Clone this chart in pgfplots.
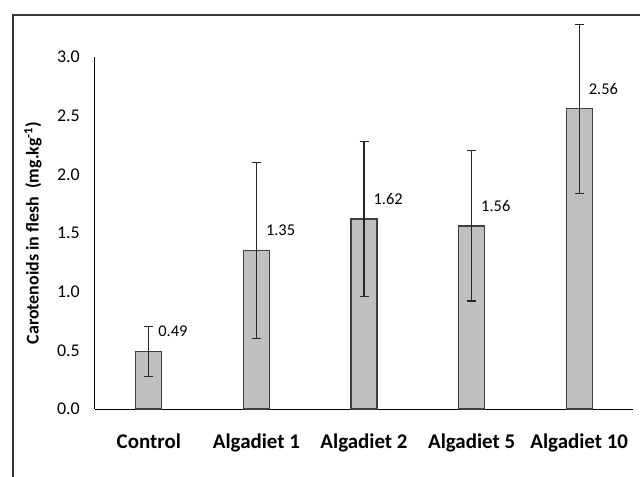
\documentclass[border=0pt]{standalone}
\usepackage{pgfplots}
\pgfplotsset{compat=1.18}
\usepackage{fontspec}
\setmainfont{Carlito}
\begin{document}
\begin{tikzpicture}
\useasboundingbox (-95bp,-68bp) rectangle (545bp,409bp);
\draw[line width=2.2bp, black!78] (-82bp,-120bp) -- (-82bp,394bp) -- (620bp,394bp);
\begin{axis}[
  at={(0,0)}, anchor=south west,
  scale only axis, width=538bp, height=352bp,
  xmin=-0.5, xmax=4.5, ymin=0, ymax=3,
  clip=false,
  axis x line*=bottom, axis y line*=left,
  axis line style={-, black, line width=1bp},
  xtick={0,1,2,3,4},
  xticklabels={Control, Algadiet 1, Algadiet 2, Algadiet 5, Algadiet 10},
  ytick={0,0.5,1,1.5,2,2.5,3},
  major tick length=0pt,
  y tick label style={/pgf/number format/fixed, /pgf/number format/fixed zerofill, /pgf/number format/precision=1, /pgf/number format/assume math mode=true, font=\fontsize{18}{20}\selectfont, anchor=east, inner sep=0pt, xshift=-15bp},
  x tick label style={font=\fontsize{21}{24}\selectfont\bfseries, anchor=base, inner sep=0pt, yshift=-39bp},
  ylabel={Carotenoids in flesh~ (mg.kg\textsuperscript{-1})},
  ylabel style={font=\fontsize{18}{20}\selectfont\bfseries, at={(axis description cs:-0.1152,0.5)}, anchor=center, inner sep=0pt},
]
\addplot[ybar, bar width=26bp, fill=black!25, draw=black!75, line width=1.2bp,
  nodes near coords={\pgfmathprintnumber[fixed,fixed zerofill,precision=2,assume math mode=true]{\pgfplotspointmeta}},
  nodes near coords style={anchor=west, xshift=9bp, yshift=20bp, inner sep=0pt, font=\fontsize{16.5}{18}\selectfont, black},
  error bars/.cd, y dir=both, y explicit,
  error bar style={line width=1.2bp, black!85},
  error mark options={rotate=90, mark size=4.5bp, line width=1.2bp, black!85}]
coordinates {
  (0,0.49) +- (0,0.21)
  (1,1.35) +- (0,0.75)
  (2,1.62) +- (0,0.66)
  (3,1.56) +- (0,0.64)
  (4,2.56) +- (0,0.72)
};
\end{axis}
\end{tikzpicture}
\end{document}
